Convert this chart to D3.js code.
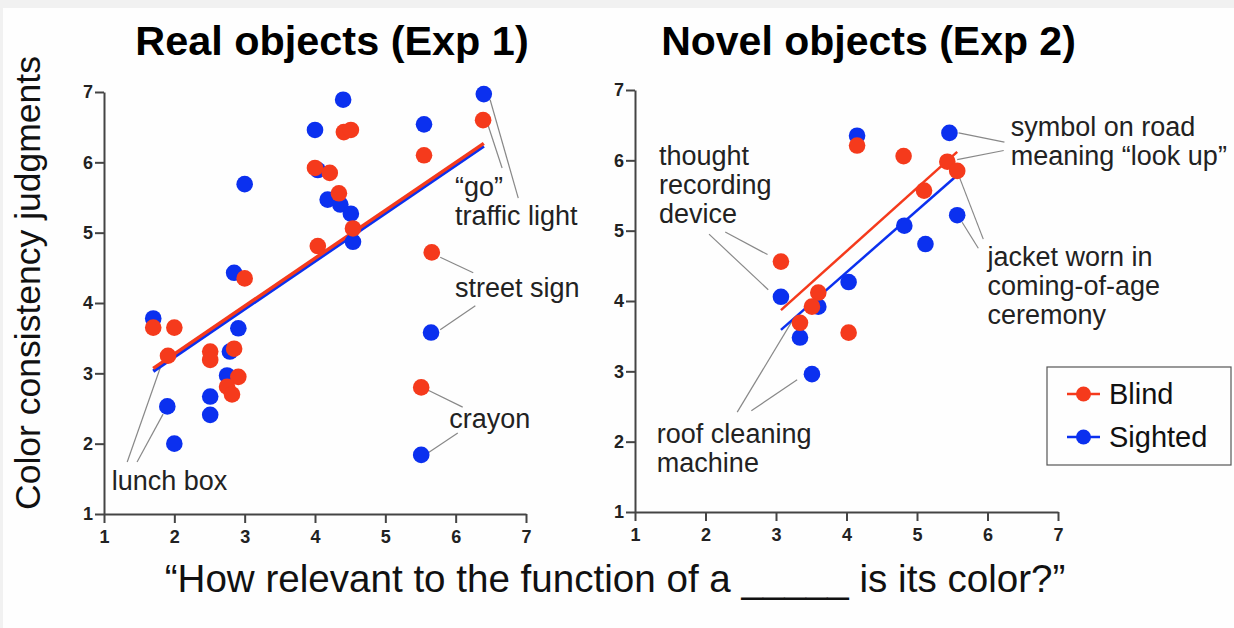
<!DOCTYPE html>
<meta charset="utf-8">
<style>
  body { margin: 0; background: #f1f1f1; }
  svg { display: block; font-family: "Liberation Sans", Arial, sans-serif; }
  .axis path, .axis line { stroke: #444; stroke-width: 2; }
  .note { font-size: 27px; fill: #222; }
  .leader { stroke: #888; stroke-width: 1.2; }
</style>
<svg width="1234" height="628"></svg>
<script src="https://d3js.org/d3.v7.min.js"></script>
<script>
// ---- data ----
var ticks = [1, 2, 3, 4, 5, 6, 7];

var realBlind = [[1.70,3.65],[2.00,3.65],[1.91,3.25],[2.51,3.31],[2.51,3.19],[2.85,3.35],[2.91,2.95],
  [2.75,2.81],[2.82,2.70],[3.00,4.35],[4.04,4.81],[4.00,5.92],[4.21,5.85],[4.34,5.56],[4.41,6.43],
  [4.51,6.46],[4.54,5.06],[5.55,6.10],[6.39,6.60],[5.66,4.72],[5.51,2.80]];
var realSighted = [[1.70,3.78],[1.90,2.53],[2.00,2.00],[2.51,2.67],[2.51,2.41],[2.75,2.97],[2.79,3.31],
  [2.91,3.64],[2.85,4.43],[3.00,5.69],[4.00,6.46],[4.40,6.89],[4.04,5.89],[4.18,5.47],[4.36,5.40],
  [4.51,5.27],[4.54,4.87],[5.55,6.54],[6.40,6.97],[5.65,3.58],[5.51,1.84]];
var realFitBlind = [[1.70,3.07],[6.40,6.27]];
var realFitSighted = [[1.70,3.03],[6.40,6.23]];

var novelBlind = [[3.07,4.56],[3.60,4.12],[3.51,3.92],[3.34,3.69],[4.15,6.21],[4.81,6.06],[5.43,5.98],
  [5.57,5.85],[5.10,5.57],[4.03,3.55]];
var novelSighted = [[3.07,4.06],[3.60,3.92],[3.34,3.48],[3.51,2.96],[4.15,6.35],[5.46,6.39],[5.57,5.22],
  [4.82,5.07],[5.12,4.81],[4.03,4.27]];
var novelFitBlind = [[3.07,3.87],[5.57,6.12]];
var novelFitSighted = [[3.07,3.59],[5.55,5.77]];

var realNotes = [
  { lines: ["lunch box"], at: [1.11,1.34], leaders: [[[1.33,1.74],[1.80,3.08]], [[1.47,1.74],[1.84,2.42]]] },
  { lines: ["\u201cgo\u201d", "traffic light"], at: [5.99,5.52], leaders: [[[6.45,6.56],[6.66,5.92]], [[6.49,6.89],[6.89,5.49]]] },
  { lines: ["street sign"], at: [5.99,4.09], leaders: [[[5.78,4.65],[6.25,4.43]], [[5.78,3.62],[6.28,3.96]]] },
  { lines: ["crayon"], at: [5.91,2.22], leaders: [[[5.61,2.76],[6.10,2.52]], [[5.61,1.87],[6.03,2.15]]] }
];
var novelNotes = [
  { lines: ["thought", "recording", "device"], at: [1.34,5.94], leaders: [[[2.28,4.98],[2.88,4.66]], [[2.05,4.95],[2.89,4.16]]] },
  { lines: ["roof cleaning", "machine"], at: [1.31,1.98], leaders: [[[2.45,2.42],[3.22,3.70]], [[2.65,2.44],[3.30,2.88]]] },
  { lines: ["symbol on road", "meaning \u201clook up\u201d"], at: [6.33,6.35], leaders: [[[5.59,6.39],[6.24,6.26]], [[5.57,6.01],[6.23,6.14]]] },
  { lines: ["jacket worn in", "coming-of-age", "ceremony"], at: [6.00,4.50], leaders: [[[5.59,5.79],[5.94,4.88]], [[5.64,5.12],[5.87,4.75]]] }
];

var groups = ["Blind", "Sighted"];
var colors = { Blind: "#f53a1c", Sighted: "#0b30ef" };

// ---- drawing ----
var svg = d3.select("svg");

svg.append("rect")
    .attr("x", 3).attr("y", 8)
    .attr("width", 1231).attr("height", 620)
    .attr("fill", "#fefefe");

function panel(opt) {
  var x = d3.scaleLinear().domain([1, 7]).range([opt.left, opt.right]);
  var y = d3.scaleLinear().domain([1, 7]).range([opt.bottom, opt.top]);
  var g = svg.append("g");

  var xa = g.append("g")
      .attr("class", "axis")
      .attr("transform", "translate(0," + opt.bottom + ")")
      .call(d3.axisBottom(x).tickValues(ticks).tickSize(9).tickSizeOuter(0).tickPadding(7).tickFormat(d3.format("d")));

  var ya = g.append("g")
      .attr("class", "axis")
      .attr("transform", "translate(" + opt.left + ",0)")
      .call(d3.axisLeft(y).tickValues(ticks).tickSize(9).tickSizeOuter(0).tickPadding(2).tickFormat(d3.format("d")));

  [xa, ya].forEach(function(a) {
    a.selectAll("text")
        .style("font-size", "18px")
        .style("font-weight", "bold")
        .style("font-family", "'Liberation Sans', Arial, sans-serif")
        .attr("fill", "#222");
  });

  g.append("text")
      .attr("x", (opt.left + opt.right) / 2 + opt.titleShift)
      .attr("y", 55)
      .attr("text-anchor", "middle")
      .style("font-size", opt.titleSize)
      .style("font-weight", "bold")
      .text(opt.title);

  // leader lines
  opt.notes.forEach(function(n) {
    n.leaders.forEach(function(l) {
      g.append("line")
          .attr("class", "leader")
          .attr("x1", x(l[0][0])).attr("y1", y(l[0][1]))
          .attr("x2", x(l[1][0])).attr("y2", y(l[1][1]));
    });
  });

  var line = d3.line().x(function(d) { return x(d[0]); }).y(function(d) { return y(d[1]); });

  // sighted drawn first, blind on top
  g.append("path").datum(opt.fitSighted).attr("d", line)
      .attr("fill", "none").attr("stroke", colors.Sighted).attr("stroke-width", opt.lineW);
  g.append("path").datum(opt.fitBlind).attr("d", line)
      .attr("fill", "none").attr("stroke", colors.Blind).attr("stroke-width", opt.lineW);

  g.selectAll(".dotS").data(opt.sighted).enter().append("circle")
      .attr("cx", function(d) { return x(d[0]); })
      .attr("cy", function(d) { return y(d[1]); })
      .attr("r", 8.3)
      .attr("fill", colors.Sighted);

  g.selectAll(".dotB").data(opt.blind).enter().append("circle")
      .attr("cx", function(d) { return x(d[0]); })
      .attr("cy", function(d) { return y(d[1]); })
      .attr("r", 8.3)
      .attr("fill", colors.Blind);

  opt.notes.forEach(function(n) {
    var t = g.append("text").attr("class", "note")
        .attr("x", x(n.at[0])).attr("y", y(n.at[1]));
    n.lines.forEach(function(s, i) {
      t.append("tspan").attr("x", x(n.at[0])).attr("dy", i === 0 ? 0 : 29).text(s);
    });
  });
}

panel({ left: 104, right: 526, top: 92, bottom: 514, title: "Real objects (Exp 1)", titleShift: 17, titleSize: "41.4px",
        blind: realBlind, sighted: realSighted, fitBlind: realFitBlind, fitSighted: realFitSighted,
        notes: realNotes, lineW: 3.5 });

panel({ left: 635, right: 1058, top: 90, bottom: 512, title: "Novel objects (Exp 2)", titleShift: 22, titleSize: "41px",
        blind: novelBlind, sighted: novelSighted, fitBlind: novelFitBlind, fitSighted: novelFitSighted,
        notes: novelNotes, lineW: 2.5 });

// axis titles
svg.append("text")
    .attr("transform", "translate(40,283) rotate(-90)")
    .attr("text-anchor", "middle")
    .style("font-size", "35.5px")
    .attr("fill", "#111")
    .text("Color consistency judgments");

svg.append("text")
    .attr("x", 615).attr("y", 592)
    .attr("text-anchor", "middle")
    .style("font-size", "38.6px")
    .attr("fill", "#111")
    .text("\u201cHow relevant to the function of a _____ is its color?\u201d");

// legend
var legend = svg.append("g");
legend.append("rect")
    .attr("x", 1047).attr("y", 367)
    .attr("width", 184).attr("height", 98)
    .attr("fill", "#fefefe").attr("stroke", "#555").attr("stroke-width", 1.2);

var item = legend.selectAll(".item").data(groups).enter().append("g")
    .attr("transform", function(d, i) { return "translate(1067," + (394 + i * 43) + ")"; });

item.append("line").attr("x1", 0).attr("x2", 33)
    .attr("stroke", function(d) { return colors[d]; }).attr("stroke-width", 2.5);
item.append("circle").attr("cx", 16.5).attr("r", 7.5)
    .attr("fill", function(d) { return colors[d]; });
item.append("text").attr("x", 42).attr("y", 10)
    .style("font-size", "29px").attr("fill", "#111")
    .text(function(d) { return d; });
</script>
